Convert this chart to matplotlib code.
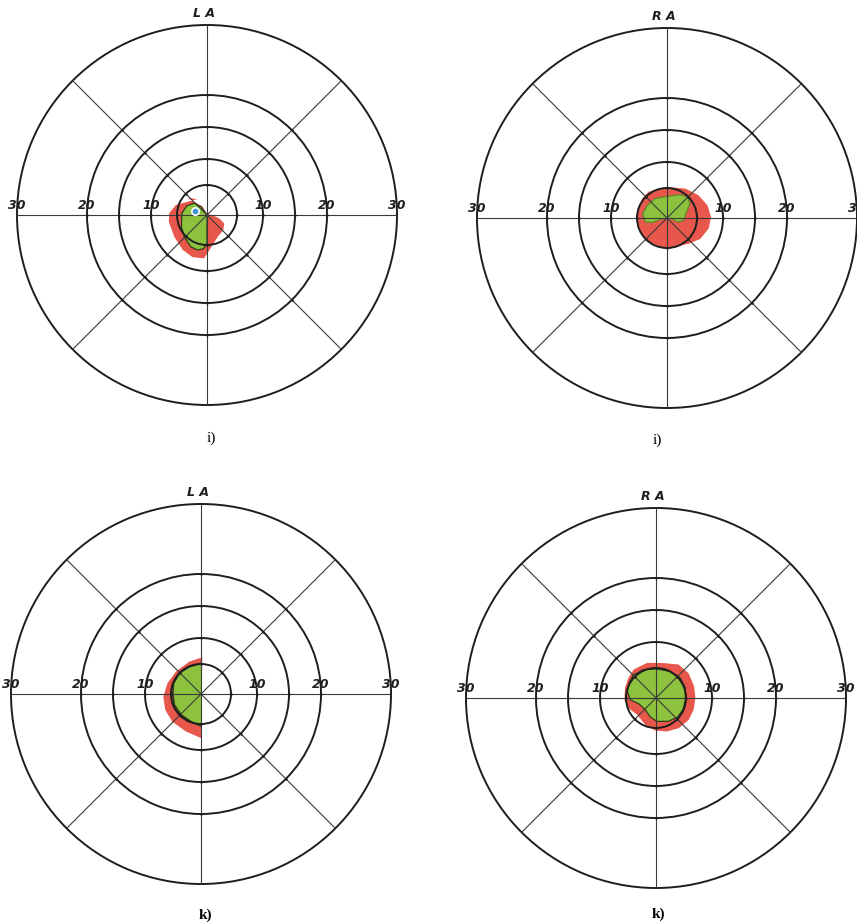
import numpy as np
import matplotlib
matplotlib.use("Agg")
import matplotlib.pyplot as plt

# ---- radial scale of the perimeter chart (degrees -> drawn radius) ----
SCALE_DEG = [0, 5, 10, 15, 20, 30, 40]
SCALE_POS = [0, 30, 56, 88, 120, 190, 253]
RINGS = [5, 10, 15, 20]
RING_LABELS = [10, 20, 30]
SPOKES = [0, 45, 90, 135, 180, 225, 270, 315]

# ---- LA, i) ----
la_i_red_theta = [139, 121, 162, 177, 190, 214, 235, 251, 266, 274, 295, 317, 334, 345, 0, 90, 118]
la_i_red_r = [4.3, 3.1, 5.5, 6.5, 6.7, 6.8, 7.4, 7.8, 7.6, 6.0, 4.1, 3.7, 3.2, 2.1, 0.8, 0.2, 1.6]
la_i_green_theta = [0, 126, 137, 156, 176, 205, 224, 243, 255, 264, 270]
la_i_green_r = [0, 1.7, 2.9, 3.7, 4.2, 4.7, 5.3, 6.1, 6.2, 5.75, 4.7]
la_i_spot_theta, la_i_spot_r = 161, 2.2

# ---- RA, i) ----
ra_i_red_theta = [125, 90, 58, 36, 17, 1, 346, 328, 310, 283, 257, 232, 208, 185, 162, 142]
ra_i_red_r = [5.4, 5.2, 5.9, 6.7, 7.4, 7.7, 7.5, 6.8, 5.7, 4.95, 4.97, 5.0, 5.0, 5.0, 5.0, 5.3]
ra_i_green_theta = [0, 192, 197, 190, 170, 148, 121, 90, 60, 45, 32, 17, 352, 339, 352]
ra_i_green_r = [0, 1.1, 2.6, 3.7, 4.1, 3.9, 3.8, 3.6, 4.5, 4.9, 4.5, 3.4, 2.8, 1.9, 0.8]

# ---- LA, k) ----
la_k_red_theta = [88, 110, 138, 162, 184, 204, 224, 248, 270]
la_k_red_r = [6.3, 5.85, 5.7, 6.0, 6.5, 6.75, 6.9, 7.0, 7.7]
la_k_green_theta = [90, 113, 136, 159, 180, 202, 226, 250, 270]
la_k_green_r = [5.1, 4.95, 5.0, 4.9, 4.7, 4.8, 4.8, 4.9, 5.4]

# ---- RA, k) ----
ra_k_red_theta = [128, 104, 78, 56, 37, 17, 0, 343, 326, 307, 288, 269, 248, 221, 200, 183, 162, 144]
ra_k_red_r = [6.2, 6.2, 6.1, 7.0, 7.1, 6.9, 6.8, 6.8, 6.8, 6.5, 6.0, 5.5, 4.8, 4.2, 4.9, 5.3, 5.5, 5.8]
ra_k_green_theta = [134, 114, 88, 62, 40, 19, 357, 337, 319, 298, 272, 253, 228, 198, 184, 167, 148]
ra_k_green_r = [5.4, 5.2, 4.85, 5.0, 5.3, 5.2, 4.9, 4.9, 4.8, 4.4, 3.9, 3.3, 2.65, 3.05, 4.3, 4.9, 5.2]

RED = "#e8574b"
GREEN = "#8cc23e"
INK = "#1e1e1e"


def fwd(r):
    return np.interp(np.asarray(r, dtype=float), SCALE_DEG, SCALE_POS)


def inv(p):
    return np.interp(np.asarray(p, dtype=float), SCALE_POS, SCALE_DEG)


def chart(rect, eye, red, green, green_closed=True, outline="#2f3d18", spot=None):
    ax = fig.add_axes(rect, projection="polar")
    ax.set_rscale("function", functions=(fwd, inv))
    ax.set_rlim(0, 30)
    ax.set_thetagrids(SPOKES, labels=[""] * len(SPOKES))
    ax.set_rgrids(RINGS, labels=[""] * len(RINGS))
    ax.tick_params(axis="both", length=0, pad=0)
    ax.xaxis.grid(True, color="#3a3a3a", lw=0.8)
    ax.yaxis.grid(True, color=INK, lw=1.4)
    ax.set_axisbelow(False)
    ax.spines["polar"].set_color(INK)
    ax.spines["polar"].set_linewidth(1.4)
    ax.patch.set_alpha(0)

    th, rr = red
    ax.fill(np.radians(th), rr, color=RED, lw=0, zorder=1)
    th, rr = green
    ax.fill(np.radians(th), rr, color=GREEN, lw=0, zorder=1.5)
    if green_closed:
        ax.plot(np.radians(th + th[:1]), rr + rr[:1], color=outline, lw=0.9, zorder=1.6)
    else:
        ax.plot(np.radians(th), rr, color=outline, lw=1.2, zorder=1.6)
    if spot is not None:
        ax.scatter(np.radians(spot[0]), spot[1], s=28, color="#3f95d3", edgecolor="white", lw=1.2, zorder=3)

    # dots at ring / spoke crossings
    tt, rg = np.meshgrid(np.radians(SPOKES), RINGS)
    ax.scatter(tt.ravel(), rg.ravel(), s=3, color=INK, zorder=3, lw=0)

    for v in RING_LABELS:
        for ang in (0, np.pi):
            ax.annotate(str(v), xy=(ang, v), xytext=(0, 2), textcoords="offset points",
                        ha="center", va="bottom", fontsize=9, style="italic", weight="bold",
                        color=INK, annotation_clip=False)
    ax.annotate(eye, xy=(np.pi / 2, 30), xytext=(-2, 8), textcoords="offset points",
                ha="center", va="center", fontsize=9, style="italic", weight="bold", color=INK,
                annotation_clip=False)
    return ax


W, H = 857, 924
fig = plt.figure(figsize=(W / 100, H / 100), dpi=100)
R = 190


def rect(cx, cy):
    return [(cx - R) / W, (H - cy - R) / H, 2 * R / W, 2 * R / H]


chart(rect(207, 215), "L A", (la_i_red_theta, la_i_red_r), (la_i_green_theta, la_i_green_r),
      spot=(la_i_spot_theta, la_i_spot_r))
chart(rect(667, 218), "R A", (ra_i_red_theta, ra_i_red_r), (ra_i_green_theta, ra_i_green_r),
      outline="#5f8a2a")
chart(rect(201, 694), "L A", (la_k_red_theta, la_k_red_r), (la_k_green_theta, la_k_green_r),
      green_closed=False)
chart(rect(656, 698), "R A", (ra_k_red_theta, ra_k_red_r), (ra_k_green_theta, ra_k_green_r))

serif = ["Liberation Serif", "DejaVu Serif"]
fig.text(211 / W, 1 - 438 / H, "i)", ha="center", va="center", fontsize=11, family=serif)
fig.text(657 / W, 1 - 440 / H, "i)", ha="center", va="center", fontsize=11, family=serif)
fig.text(205 / W, 1 - 915 / H, "k)", ha="center", va="center", fontsize=11, family=serif,
         weight="bold")
fig.text(658 / W, 1 - 914 / H, "k)", ha="center", va="center", fontsize=11, family=serif,
         weight="bold")

fig.savefig("out.png", dpi=100, facecolor="white")
